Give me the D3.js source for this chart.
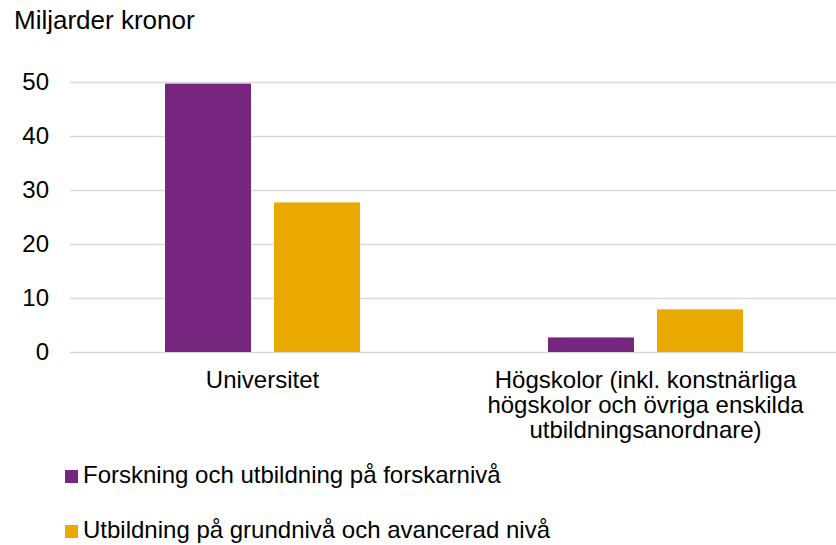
<!DOCTYPE html>
<html>
<head>
<meta charset="utf-8">
<script src="https://cdn.jsdelivr.net/npm/d3@7"></script>
<style>
  body { margin: 0; background: #fff; }
  text { font-family: "Liberation Sans", Arial, sans-serif; fill: #000; }
</style>
</head>
<body>
<svg width="836" height="545"></svg>
<script>
/* data */
var categories = ["Universitet", "Högskolor (inkl. konstnärliga högskolor och övriga enskilda utbildningsanordnare)"];
var categoryLines = [["Universitet"], ["Högskolor (inkl. konstnärliga", "högskolor och övriga enskilda", "utbildningsanordnare)"]];
var seriesNames = ["Forskning och utbildning på forskarnivå", "Utbildning på grundnivå och avancerad nivå"];
var forskning = [49.7, 2.7];
var utbildning = [27.7, 7.9];
var yTicks = [0, 10, 20, 30, 40, 50];
var colors = ["#76267f", "#e9a900"];

var svg = d3.select("svg"),
    margin = {top: 82, right: 0, bottom: 193, left: 70},
    width = +svg.attr("width") - margin.left - margin.right,
    height = +svg.attr("height") - margin.top - margin.bottom;

/* bars are 86 wide with a 23px gap, centred in each category band */
var x = d3.scaleBand().domain(categories).range([0, width]),
    xs = d3.scaleBand().domain(seriesNames).range([0, 195]).paddingInner(23 / 109),
    y = d3.scaleLinear().domain([0, 50]).range([height, 0]);

var g = svg.append("g").attr("transform", "translate(" + margin.left + "," + margin.top + ")");

/* title */
svg.append("text").attr("x", 14).attr("y", 29).style("font-size", "26px").text("Miljarder kronor");

/* gridlines + y axis */
var yAxis = g.append("g")
    .call(d3.axisLeft(y).tickValues(yTicks).tickSize(-width).tickPadding(21).tickFormat(d3.format("d")));
yAxis.select(".domain").remove();
yAxis.selectAll("line").attr("stroke", "#d9d9d9").attr("stroke-width", 1.5);
yAxis.selectAll("text").style("font-size", "24px").attr("font-family", null);

/* bars */
var rows = categories.map(function(c, i) { return {cat: c, vals: [forskning[i], utbildning[i]]}; });

var groups = g.selectAll(".grp").data(rows).enter().append("g")
    .attr("transform", function(d) { return "translate(" + (x(d.cat) + (x.bandwidth() - 195) / 2 + 1) + ",0)"; });

groups.selectAll("rect")
  .data(function(d) { return d.vals.map(function(v, j) { return {name: seriesNames[j], v: v, j: j}; }); })
  .enter().append("rect")
    .attr("x", function(d) { return xs(d.name); })
    .attr("y", function(d) { return y(d.v); })
    .attr("width", xs.bandwidth())
    .attr("height", function(d) { return height - y(d.v); })
    .attr("fill", function(d) { return colors[d.j]; });

/* category labels */
categories.forEach(function(c, i) {
  var cx = x(c) + x.bandwidth() / 2 + 1;
  var t = g.append("text")
      .attr("text-anchor", "middle")
      .attr("x", cx)
      .attr("y", height + 36)
      .style("font-size", "24px");
  categoryLines[i].forEach(function(line, k) {
    t.append("tspan").attr("x", cx).attr("dy", k === 0 ? 0 : 25).text(line);
  });
});

/* legend */
var legend = svg.selectAll(".legend").data(seriesNames).enter().append("g")
    .attr("transform", function(d, i) { return "translate(65," + (470 + i * 55) + ")"; });
legend.append("rect").attr("width", 13).attr("height", 13).attr("fill", function(d, i) { return colors[i]; });
legend.append("text").attr("x", 18).attr("y", 13).style("font-size", "24px").text(function(d) { return d; });
</script>
</body>
</html>
